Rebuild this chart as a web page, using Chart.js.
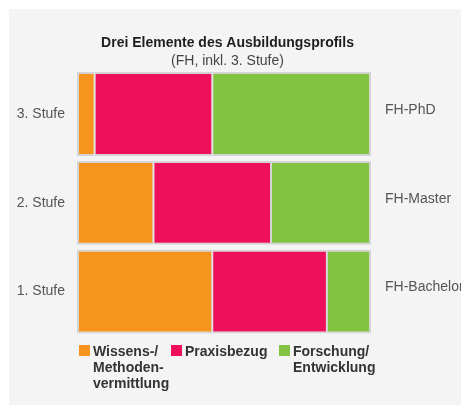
<!DOCTYPE html>
<html>
<head>
<meta charset="utf-8">
<script src="https://cdn.jsdelivr.net/npm/chart.js@4.4.1/dist/chart.umd.min.js"></script>
<style>
  body { margin: 0; background: #fff; font-family: "Liberation Sans", Arial, sans-serif; overflow: hidden; }
  #panel { position: absolute; left: 9px; top: 9px; width: 452px; height: 396px; background: #f4f4f4; }
  #wrap { position: absolute; left: -6px; top: 0; width: 467px; height: 361px; }
  #legend { position: absolute; left: 0; top: 343px; }
  .item { position: absolute; top: 0; font-weight: bold; font-size: 14px; line-height: 16px; color: #333; }
  .box { position: absolute; top: 2px; width: 11px; height: 11px; }
</style>
</head>
<body>
<div id="panel"></div>
<div id="wrap"><canvas id="chart"></canvas></div>
<div id="legend"></div>
<script>
// Stufen (oben nach unten) und Abschlüsse rechts
const stufen = ['3. Stufe', '2. Stufe', '1. Stufe'];
const abschluesse = ['FH-PhD', 'FH-Master', 'FH-Bachelor'];

// Anteile in Prozent
const wissen = [6, 26, 46];
const praxis = [40, 40, 39];
const forschung = [54, 34, 15];

const seriesNames = [['Wissens-/', 'Methoden-', 'vermittlung'], ['Praxisbezug'], ['Forschung/', 'Entwicklung']];
const seriesColors = ['#f7941d', '#ee105a', '#82c341'];
const legendX = [79, 171, 279];

const edge = '#d4d4d4';

function makeSet(i, data, border) {
    return {
        label: seriesNames[i].join(' '),
        data: data,
        backgroundColor: seriesColors[i],
        borderColor: edge,
        borderWidth: border,
        borderSkipped: false,
        barPercentage: 0.944,
        categoryPercentage: 1,
        yAxisID: 'y'
    };
}

new Chart(document.getElementById('chart'), {
    type: 'bar',
    data: {
        labels: stufen,
        datasets: [
            makeSet(0, wissen, { top: 2, bottom: 2, left: 2, right: 1 }),
            makeSet(1, praxis, { top: 2, bottom: 2, left: 1, right: 1 }),
            makeSet(2, forschung, { top: 2, bottom: 2, left: 1, right: 2 })
        ]
    },
    options: {
        indexAxis: 'y',
        responsive: true,
        maintainAspectRatio: false,
        animation: false,
        layout: { padding: { left: 0, right: 0, top: 0, bottom: 25 } },
        scales: {
            x: { stacked: true, min: 0, max: 100, display: false },
            y: {
                stacked: true,
                position: 'left',
                grid: { display: false, drawTicks: false },
                border: { display: false },
                ticks: { padding: 12, color: '#555', font: { family: 'Liberation Sans', size: 14 } },
                afterFit(scale) { scale.width = 83; }
            },
            y2: {
                type: 'category',
                labels: abschluesse,
                position: 'right',
                offset: true,
                grid: { display: false, drawTicks: false },
                border: { display: false },
                ticks: { padding: 14, labelOffset: -4, color: '#555', font: { family: 'Liberation Sans', size: 14 } },
                afterFit(scale) { scale.width = 90; }
            }
        },
        plugins: {
            legend: { display: false },
            tooltip: { enabled: false },
            title: {
                display: true,
                text: 'Drei Elemente des Ausbildungsprofils',
                color: '#1e1e1e',
                font: { family: 'Liberation Sans', size: 14, weight: 'bold' },
                padding: { top: 35, bottom: 1 }
            },
            subtitle: {
                display: true,
                text: '(FH, inkl. 3. Stufe)',
                color: '#444',
                font: { family: 'Liberation Sans', size: 14, weight: 'normal' },
                padding: { top: 0, bottom: 0 }
            }
        }
    }
});

// Legende
const legend = document.getElementById('legend');
seriesNames.forEach((lines, i) => {
    const box = document.createElement('div');
    box.className = 'box';
    box.style.left = legendX[i] + 'px';
    box.style.background = seriesColors[i];
    legend.appendChild(box);
    const txt = document.createElement('div');
    txt.className = 'item';
    txt.style.left = (legendX[i] + 14) + 'px';
    txt.innerHTML = lines.join('<br>');
    legend.appendChild(txt);
});
</script>
</body>
</html>
